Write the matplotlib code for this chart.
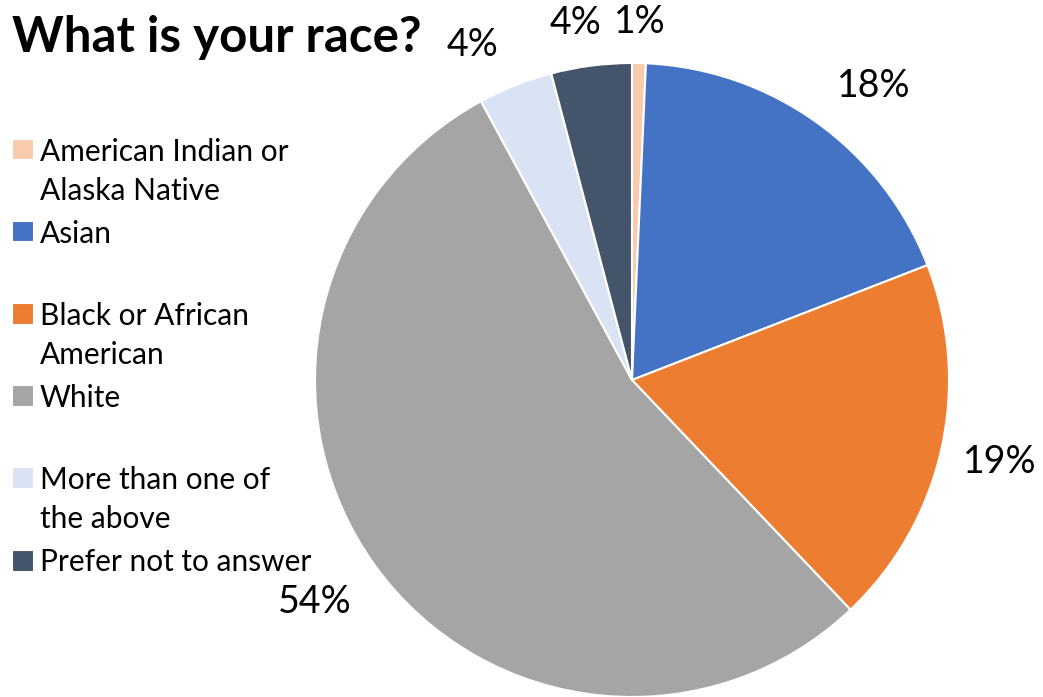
import numpy as np
import matplotlib.pyplot as plt
from matplotlib.patches import Rectangle, Wedge
from matplotlib.legend_handler import HandlerPatch

plt.rcParams['font.family'] = ['Lato', 'DejaVu Sans']

# survey answers (share of respondents, %)
categories = ['American Indian or\nAlaska Native', 'Asian\n', 'Black or African\nAmerican',
              'White\n', 'More than one of\nthe above', 'Prefer not to answer']
values = [0.7, 18.4, 18.8, 54.2, 3.8, 4.1]
colors = ['#F8CBAD', '#4472C4', '#ED7D31', '#A5A5A5', '#DAE3F3', '#44546A']
# where each percent label sits: distance (pie radii) and clockwise nudge (deg)
label_dist = [1.13, 1.20, 1.19, 1.22, 1.17, 1.14]
label_nudge = [0, 3.8, 0, 1, -3.9, -1.6]

W, H = 1043, 697
fig = plt.figure(figsize=(W / 100, H / 100), dpi=100)

# pie centred at (632, 380) px with radius 317 px
cx, cy, r = 632, 380, 317
ax = fig.add_axes([(cx - r) / W, (H - cy - r) / H, 2 * r / W, 2 * r / H])
wedges, texts, autotexts = ax.pie(
    values, colors=colors, startangle=90, counterclock=False,
    autopct=lambda p: f'{p:.0f}%', pctdistance=1.18,
    wedgeprops=dict(edgecolor='white', linewidth=1.5),
    textprops=dict(fontsize=27, color='black'))
for w, t, d, n in zip(wedges, autotexts, label_dist, label_nudge):
    ang = np.deg2rad((w.theta1 + w.theta2) / 2 - n)
    t.set_position((d * np.cos(ang), d * np.sin(ang)))
ax.set_xlim(-1, 1)
ax.set_ylim(-1, 1)
ax.set_aspect('auto')

fig.text(12 / W, 1 - 52 / H, 'What is your race?', fontsize=35.5, fontweight='bold',
         ha='left', va='baseline')

fs = 21.5
n_lines = {w: lab.count('\n') + 1 for w, lab in zip(wedges, categories)}


# legend squares sit on the first line of each slot
def first_line_square(legend, orig_handle, xdescent, ydescent, width, height, fontsize):
    shift = 0.77 if n_lines[orig_handle] == 2 else 0.0
    return Rectangle((-xdescent, -ydescent + shift * fontsize), width, height)


leg = fig.legend(wedges, categories, loc='upper left', bbox_to_anchor=(12 / W, 1 - 138 / H),
                 frameon=False, fontsize=fs, handlelength=0.75, handleheight=0.75,
                 handletextpad=0.18, labelspacing=0.51, borderpad=0, borderaxespad=0,
                 handler_map={Wedge: HandlerPatch(patch_func=first_line_square)})
for t in leg.get_texts():
    t.set_linespacing(1.47)

fig.savefig('out.png', dpi=100)
